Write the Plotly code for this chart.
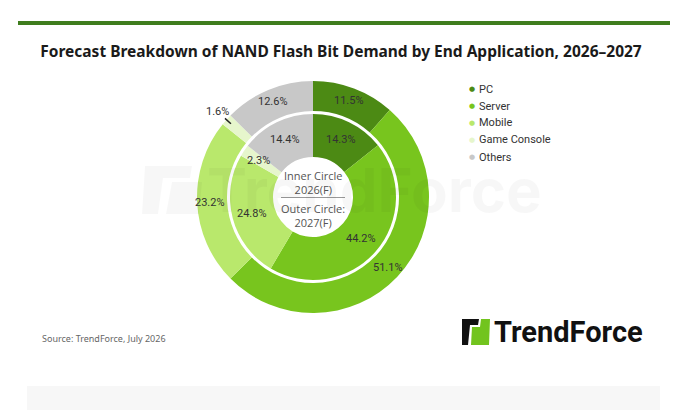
import math
import plotly.graph_objects as go

# ---------------- data ----------------
labels = ['PC', 'Server', 'Mobile', 'Game Console', 'Others']
share_2026 = [14.3, 44.2, 24.8, 2.3, 14.4]   # inner circle
share_2027 = [11.5, 51.1, 23.2, 1.6, 12.6]   # outer circle
colors = ['#4c8a14', '#78c51e', '#b9e86c', '#e6f6cc', '#c8c8c8']

title_text = 'Forecast Breakdown of NAND Flash Bit Demand by End Application, 2026\u20132027'
source_text = 'Source: TrendForce, July 2026'

# page body has an 8px margin, so the figure sits 8px in from the window corner
OFF = 8
W, H = 692 - OFF, 410 - OFF
cx, cy = 313, 197          # donut centre, window px
r_out, r_out_in = 116, 86   # outer ring
r_in, r_in_in = 83, 40      # inner ring


def px(x, y):
    # window pixel -> paper coords
    return (x - OFF) / W, (H - (y - OFF)) / H


def dom(r):
    x0, y0 = px(cx - r, cy + r)
    x1, y1 = px(cx + r, cy - r)
    return dict(x=[x0, x1], y=[y0, y1])


def note(x, y, text, font, **kw):
    ax, ay = px(x, y)
    kw.setdefault('xanchor', 'center')
    kw.setdefault('yanchor', 'middle')
    fig.add_annotation(x=ax, y=ay, xref='paper', yref='paper', showarrow=False,
                       text=text, font=font, **kw)


def polar(r, a):
    return cx + r * math.sin(a), cy - r * math.cos(a)


def mid_angle(vals, i):
    start = sum(vals[:i]) / sum(vals) * 360
    return math.radians(start + vals[i] / sum(vals) * 180)


lab_font = dict(size=11, color='#333333', family='Roboto')

fig = go.Figure()

for vals, r1, r0 in [(share_2027, r_out, r_out_in), (share_2026, r_in, r_in_in)]:
    fig.add_trace(go.Pie(
        labels=labels, values=vals, sort=False, direction='clockwise',
        hole=r0 / r1, domain=dom(r1),
        marker=dict(colors=colors, line=dict(width=0)),
        textinfo='none', showlegend=False, hoverinfo='label+value'
    ))
    # percentage labels at the middle of each slice
    for i, v in enumerate(vals):
        if labels[i] == 'Game Console':
            continue
        note(*polar((r1 + r0) / 2 + 2, mid_angle(vals, i)), f'{v:.1f}%', lab_font)

# thin Game Console slices
note(*polar((r_in + r_in_in) / 2 + 4, mid_angle(share_2026, 3)),
     f'{share_2026[3]:.1f}%', lab_font)

a = mid_angle(share_2027, 3)
p1, p2 = polar(r_out - 6, a), polar(r_out + 2, a)
fig.add_shape(type='line', xref='paper', yref='paper',
              x0=px(*p1)[0], y0=px(*p1)[1], x1=px(*p2)[0], y1=px(*p2)[1],
              line=dict(color='#222222', width=1.5))
note(*polar(r_out + 12, a), f'{share_2027[3]:.1f}%', lab_font)

# centre text
ctr_font = dict(size=11, color='#555555', family='Open Sans')
note(cx, 183, 'Inner Circle<br>2026(F)', ctr_font)
note(cx, 215.5, 'Outer Circle:<br>2027(F)', ctr_font)
fig.add_shape(type='line', xref='paper', yref='paper',
              x0=px(cx - 32, 0)[0], x1=px(cx + 32, 0)[0],
              y0=px(0, 197.5)[1], y1=px(0, 197.5)[1],
              line=dict(color='#999999', width=1))

# legend drawn as dot + label rows
for i, (lab, col) in enumerate(zip(labels, colors)):
    yy = 89 + i * 17
    note(467, yy, f'<span style="color:{col}">\u25cf</span>',
         dict(size=7, family='DejaVu Sans'), xanchor='left')
    note(477, yy, lab, dict(size=11, color='#333333', family='Roboto'), xanchor='left')

# faint watermark
wm = 'rgba(0,0,0,0.03)'
note(374, 190, '<b>TrendForce</b>', dict(size=60, color=wm, family='Inter'))
fig.add_shape(type='path', xref='paper', yref='paper',
              path=(f'M {px(145,0)[0]},{px(0,166)[1]} L {px(192,0)[0]},{px(0,166)[1]} '
                    f'L {px(190,0)[0]},{px(0,178)[1]} L {px(163,0)[0]},{px(0,178)[1]} '
                    f'L {px(158,0)[0]},{px(0,214)[1]} L {px(142,0)[0]},{px(0,214)[1]} Z'),
              fillcolor=wm, line=dict(width=0))
fig.add_shape(type='path', xref='paper', yref='paper',
              path=(f'M {px(172,0)[0]},{px(0,182)[1]} L {px(202,0)[0]},{px(0,182)[1]} '
                    f'L {px(199,0)[0]},{px(0,214)[1]} L {px(166,0)[0]},{px(0,214)[1]} Z'),
              fillcolor=wm, line=dict(width=0))

# top rule
fig.add_shape(type='rect', xref='paper', yref='paper',
              x0=px(18, 0)[0], x1=px(670, 0)[0], y0=px(0, 25)[1], y1=px(0, 21)[1],
              fillcolor='#3f7d1e', line=dict(width=0))

# bottom grey strip
fig.add_shape(type='rect', xref='paper', yref='paper',
              x0=px(27, 0)[0], x1=px(660, 0)[0], y0=0, y1=px(0, 386)[1],
              fillcolor='#f7f7f7', line=dict(width=0), layer='below')

# source
note(40, 338, source_text,
     dict(size=9, color='#666666', family='Liberation Sans Narrow, Noto Sans'), xanchor='left')

# logo
fig.add_shape(type='path', xref='paper', yref='paper',
              path=(f'M {px(462,0)[0]},{px(0,319)[1]} L {px(479,0)[0]},{px(0,319)[1]} '
                    f'L {px(478,0)[0]},{px(0,325)[1]} L {px(470,0)[0]},{px(0,325)[1]} '
                    f'L {px(468,0)[0]},{px(0,345)[1]} L {px(462,0)[0]},{px(0,345)[1]} Z'),
              fillcolor='#111111', line=dict(width=0))
fig.add_shape(type='path', xref='paper', yref='paper',
              path=(f'M {px(481,0)[0]},{px(0,319)[1]} L {px(490,0)[0]},{px(0,319)[1]} '
                    f'L {px(489,0)[0]},{px(0,345)[1]} L {px(471,0)[0]},{px(0,345)[1]} '
                    f'L {px(472,0)[0]},{px(0,327)[1]} L {px(480,0)[0]},{px(0,327)[1]} Z'),
              fillcolor='#72c41e', line=dict(width=0))
note(492, 332, '<b>TrendForce</b>', dict(size=29, color='#111111', family='Roboto'),
     xanchor='left')

t_x, t_y = px(341, 52)
fig.update_layout(
    width=W, height=H,
    margin=dict(l=0, r=0, t=0, b=0),
    paper_bgcolor='white', plot_bgcolor='white',
    title=dict(text=f'<b>{title_text}</b>', x=t_x, xanchor='center',
               y=t_y, yanchor='middle',
               font=dict(size=15.5, color='#1a1a1a', family='Noto Sans')),
    showlegend=False,
)

fig.write_html('out.html')
